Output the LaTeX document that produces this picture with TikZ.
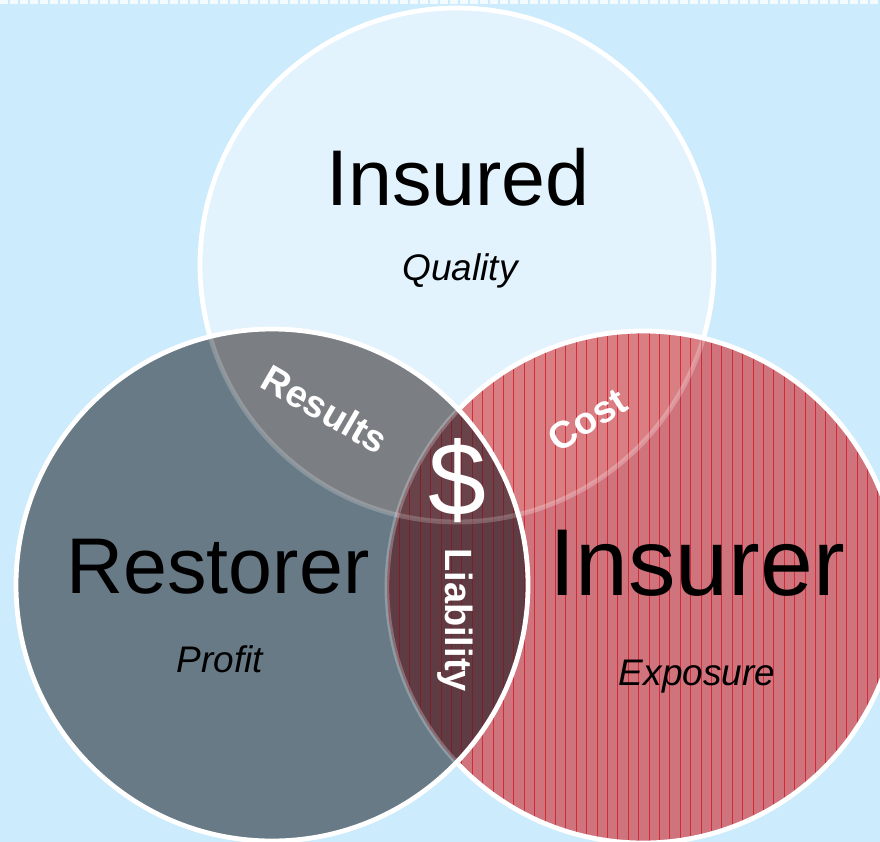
\documentclass[tikz,border=0pt]{standalone}
\usepackage{fontspec}
\setmainfont{Liberation Sans}

\definecolor{skybg}{HTML}{CCEBFC}
\definecolor{insuredfill}{HTML}{E2F3FD}
\definecolor{restorerfill}{HTML}{687A86}
\definecolor{resultsfill}{HTML}{7B7F84}
\definecolor{insurerfill}{HTML}{CF737D}
\definecolor{costfill}{HTML}{D97E82}
\definecolor{liabfill}{HTML}{5F3C44}
\definecolor{dollarfill}{HTML}{6A434A}
\definecolor{stripered}{HTML}{D0202C}
\definecolor{stripedark}{HTML}{7E1C26}

\begin{document}
\begin{tikzpicture}[
    x=0.5pt, y=-0.5pt,
    ring/.style={draw=white, line width=2.4pt},
    faint/.style={draw=white, line width=2.4pt, opacity=0.25},
    stripes/.style={draw=stripered, line width=0.5pt, opacity=0.85},
    title/.style={font=\fontsize{39.5}{44}\selectfont, anchor=base},
    motto/.style={font=\itshape\fontsize{18.5}{22}\selectfont, anchor=base},
    tag/.style={text=white, inner sep=0pt, font=\bfseries\fontsize{19}{22}\selectfont}
]

% Background
\fill[skybg] (0,0) rectangle (880,842);
\useasboundingbox (0,0) rectangle (880,842);
\draw[white, opacity=0.8, line width=2pt, dash pattern=on 4pt off 1pt] (0,2) -- (880,2);

% Circle centres
\coordinate (insured) at (457,265);
\coordinate (insurer) at (643,587);
\coordinate (restorer) at (272,585);

% Insured circle
\fill[insuredfill] (insured) circle[radius=257];
\draw[ring] (insured) circle[radius=257];

% Insurer circle with vertical stripes
\begin{scope}
    \clip (insurer) circle[radius=256];
    \fill[insurerfill] (insurer) circle[radius=256];
    \fill[costfill] (insured) circle[radius=257];
    \foreach \i in {0,...,50}
        \draw[stripes] ({389+10.4*\i},320) -- ({389+10.4*\i},850);
    \draw[faint] (insured) circle[radius=257];
\end{scope}
\draw[ring] (insurer) circle[radius=256];

% Restorer circle and overlaps
\begin{scope}
    \clip (restorer) circle[radius=256];
    \fill[restorerfill] (restorer) circle[radius=256];
    \fill[resultsfill] (insured) circle[radius=257];
    \begin{scope}
        \clip (insurer) circle[radius=256];
        \fill[liabfill] (insurer) circle[radius=256];
        \fill[dollarfill] (insured) circle[radius=257];
        \foreach \i in {0,...,14}
            \draw[stripes, draw=stripedark] ({389+10.4*\i},320) -- ({389+10.4*\i},850);
    \end{scope}
    \draw[faint, opacity=0.2] (insured) circle[radius=257];
    \draw[faint] (insurer) circle[radius=256];
\end{scope}
\draw[ring] (restorer) circle[radius=256];

% Labels
\node[title] (insuredname) at (458,205) {Insured};
\node[motto] (quality) at (460,280) {Quality};
\node[title] (restorername) at (218,593) {Restorer};
\node[motto] (profit) at (220,672) {Profit};
\node[title, font=\fontsize{47.5}{52}\selectfont] (insurername) at (697,595) {Insurer};
\node[motto] (exposure) at (697,685) {Exposure};

% Overlap tags
\node[tag, rotate=-30] (results) at (325,409) {Results};
\node[tag, rotate=32] (cost) at (587,420) {Cost};
\node[text=white, font=\fontsize{52}{56}\selectfont] (dollar) at (457,481) {\$};
\node[tag, rotate=-90] (liability) at (455,620) {Liability};

\end{tikzpicture}
\end{document}
